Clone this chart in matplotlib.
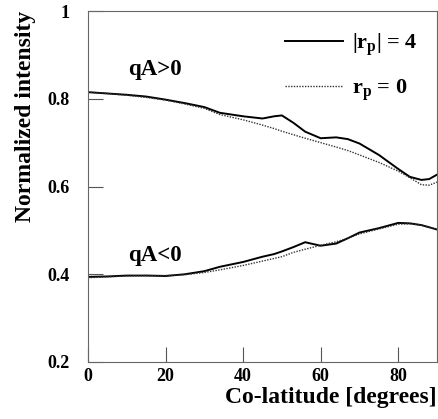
import matplotlib
matplotlib.use("Agg")
import matplotlib.pyplot as plt

plt.rcParams['font.family'] = ['Liberation Serif', 'DejaVu Serif']
plt.rcParams['font.weight'] = 'bold'
plt.rcParams['mathtext.fontset'] = 'custom'
plt.rcParams['mathtext.rm'] = 'Liberation Serif:bold'
plt.rcParams['mathtext.bf'] = 'Liberation Serif:bold'

# co-latitude in degrees
colat = [0, 5, 10, 15, 20, 25, 30, 34, 40, 45, 48, 50, 53, 56, 60, 64, 67, 70, 75, 80, 83, 86, 88, 90]

# qA>0
pos_rp4 = [0.815, 0.812, 0.809, 0.805, 0.798, 0.790, 0.781, 0.768, 0.760, 0.755, 0.760, 0.762, 0.745, 0.725, 0.710, 0.712, 0.708, 0.698, 0.672, 0.640, 0.622, 0.615, 0.617, 0.627]
pos_rp0 = [0.815, 0.812, 0.808, 0.803, 0.797, 0.788, 0.778, 0.764, 0.752, 0.740, 0.732, 0.726, 0.718, 0.710, 0.700, 0.690, 0.682, 0.672, 0.655, 0.635, 0.620, 0.604, 0.603, 0.610]

# qA<0
neg_rp4 = [0.394, 0.395, 0.397, 0.397, 0.396, 0.400, 0.407, 0.417, 0.428, 0.440, 0.446, 0.452, 0.462, 0.473, 0.465, 0.470, 0.482, 0.495, 0.505, 0.517, 0.516, 0.512, 0.507, 0.502]
neg_rp0 = [0.392, 0.394, 0.396, 0.397, 0.397, 0.399, 0.404, 0.410, 0.420, 0.430, 0.436, 0.440, 0.450, 0.457, 0.466, 0.474, 0.482, 0.492, 0.503, 0.514, 0.515, 0.512, 0.507, 0.502]

fig = plt.figure(figsize=(4.38, 4.19), dpi=100)
ax = fig.add_axes([88 / 438, 1 - 362 / 419, (437 - 88) / 438, (362 - 11) / 419])

ax.plot(colat, pos_rp4, color='black', linewidth=1.4, label=r'$|\mathrm{r_p}|$ = 4')
ax.plot(colat, pos_rp0, color='#333333', linewidth=1.0, linestyle=(0, (1, 1)), label=r'$\mathrm{r_p}$ = 0')
ax.plot(colat, neg_rp4, color='black', linewidth=1.4)
ax.plot(colat, neg_rp0, color='#333333', linewidth=1.0, linestyle=(0, (1, 1)))

ax.set_xlim(0, 90)
ax.set_ylim(0.2, 1.0)
ax.set_xticks([0, 20, 40, 60, 80])
ax.set_yticks([0.2, 0.4, 0.6, 0.8, 1.0])
ax.set_yticklabels(['0.2', '0.4', '0.6', '0.8', '1'])
ax.tick_params(direction='in', length=11, width=0.8, color='#555555', labelsize=13)
ax.tick_params(axis='y', pad=13)
ax.tick_params(axis='x', pad=4)
for s in ax.spines.values():
    s.set_color('#666666')
    s.set_linewidth(0.8)

ax.text(17.2, 0.867, 'qA>0', ha='center', va='center', fontsize=16.5, fontweight='bold')
ax.text(17.2, 0.443, 'qA<0', ha='center', va='center', fontsize=16.5, fontweight='bold')

ax.set_xlabel('Co-latitude [degrees]', fontsize=17, fontweight='bold', loc='right', labelpad=2)
ax.set_ylabel('Normalized intensity', fontsize=17, fontweight='bold')
ax.yaxis.set_label_coords(-0.15, 0.70)

ax.legend(loc='upper right', frameon=False, fontsize=16, handlelength=2.6,
          handletextpad=0.4, labelspacing=0.9, borderaxespad=0.5,
          bbox_to_anchor=(1.0, 1.0))

fig.savefig('out.png', dpi=100)
